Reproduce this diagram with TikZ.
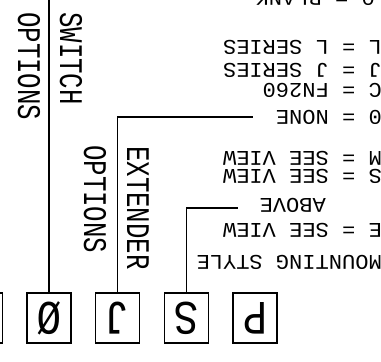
\documentclass[tikz,border=0pt]{standalone}
\usepackage{fontspec}
\usetikzlibrary{positioning}
\newfontfamily\tagfont[FakeStretch=1.05]{Liberation Mono}
\newfontfamily\capfont[FakeStretch=0.78]{Liberation Mono}
\newfontfamily\cellfont[FakeStretch=0.85]{Liberation Mono}

\begin{document}
\begin{tikzpicture}[x=1pt, y=-1pt,
  cell/.style={draw, line width=1.3pt, minimum width=44pt, minimum height=50pt,
               inner sep=0pt, rotate=180, font=\cellfont\fontsize{48}{48}\selectfont},
  lead/.style={line width=1.2pt},
  rtext/.style={rotate=180, anchor=base west, inner sep=0pt,
                font=\tagfont\fontsize{21}{21}\selectfont},
  vtext/.style={rotate=-90, anchor=base west, inner sep=0pt,
                font=\capfont\fontsize{33}{33}\selectfont}]

  \useasboundingbox (0,0) rectangle (381,362);
  \clip (0,0) rectangle (381,362);

  % code boxes
  \foreach \n/\x/\t in {cut/-19.5/{}, sw/49/Ø, ext/117.5/J, mnt/186.5/S, pfx/255/P}
    \node[cell] (\n) at (\x,318) {\t};

  % vertical captions
  \node[vtext] (swa) at (60,12) {SWITCH};
  \node[vtext] (swb) at (18,12) {OPTIONS};
  \node[vtext] (exa) at (127,146) {EXTENDER};
  \node[vtext] (exb) at (84,145) {OPTIONS};

  % option lists
  \node[rtext] (blank) at (375,-9) {0 = BLANK};
  \node[rtext] (lser) at (382,40) {L = L SERIES};
  \node[rtext] (jser) at (382,63) {J = J SERIES};
  \node[rtext] (cfn) at (382,83) {C = FN260};
  \node[rtext] (none) at (382,110) {0 = NONE};
  \node[rtext] (mview) at (382,151) {M = SEE VIEW};
  \node[rtext] (sview) at (382,169) {S = SEE VIEW};
  \node[rtext] (above) at (326,198) {ABOVE};
  \node[rtext] (eview) at (382,223) {E = SEE VIEW};
  \node[rtext] (mstyle) at (382,255) {MOUNTING STYLE};

  % leaders
  \coordinate (top) at (0,-2);
  \coordinate (extend) at (253,117);
  \coordinate (mntend) at (238,208);
  \draw[lead] (sw.south) -- (sw.south |- top);
  \draw[lead] (ext.south) |- (extend);
  \draw[lead] (mnt.south) |- (mntend);
\end{tikzpicture}
\end{document}
